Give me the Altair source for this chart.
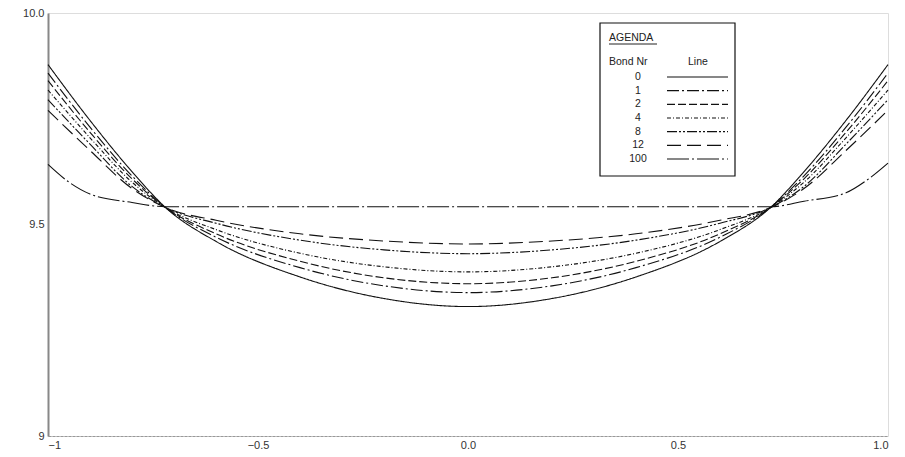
import altair as alt
import pandas as pd

# x positions
xs = [-1.0, -0.9, -0.8, -0.72, -0.6, -0.4, -0.2, 0.0, 0.2, 0.4, 0.6, 0.72, 0.8, 0.9, 1.0]
b0 = [9.878, 9.746, 9.625, 9.54, 9.46, 9.376, 9.325, 9.306, 9.325, 9.376, 9.46, 9.54, 9.625, 9.746, 9.878]
b1 = [9.858, 9.730, 9.615, 9.54, 9.47, 9.398, 9.355, 9.339, 9.355, 9.398, 9.47, 9.54, 9.615, 9.730, 9.858]
b2 = [9.840, 9.718, 9.608, 9.54, 9.478, 9.413, 9.374, 9.360, 9.374, 9.413, 9.478, 9.54, 9.608, 9.718, 9.840]
b4 = [9.818, 9.705, 9.600, 9.54, 9.488, 9.432, 9.400, 9.388, 9.400, 9.432, 9.488, 9.54, 9.600, 9.705, 9.818]
b8 = [9.795, 9.690, 9.590, 9.54, 9.503, 9.463, 9.440, 9.431, 9.440, 9.463, 9.503, 9.54, 9.590, 9.690, 9.795]
b12 = [9.770, 9.675, 9.585, 9.54, 9.510, 9.478, 9.461, 9.454, 9.461, 9.478, 9.510, 9.54, 9.585, 9.675, 9.770]
x100 = [-1.0, -0.95, -0.9, -0.8, -0.72, 0.72, 0.8, 0.9, 0.95, 1.0]
b100 = [9.642, 9.600, 9.572, 9.552, 9.542, 9.542, 9.555, 9.575, 9.605, 9.645]

bond_labels = ["0", "1", "2", "4", "8", "12", "100"]
dash_patterns = [[1, 0], [12, 3, 2, 3], [8, 3], [4, 2, 1, 2], [10, 2, 2, 2, 2, 2], [14, 6], [22, 3, 2, 3]]

rows = []
for lab, ys in zip(bond_labels[:6], [b0, b1, b2, b4, b8, b12]):
    for x, y in zip(xs, ys):
        rows.append({"x": x, "y": y, "bond": lab})
for x, y in zip(x100, b100):
    rows.append({"x": x, "y": y, "bond": "100"})
df = pd.DataFrame(rows)

dash_scale = alt.Scale(domain=bond_labels, range=dash_patterns)
FONT = "Liberation Sans"

lines = alt.Chart(df).mark_line(color="#111", strokeWidth=1.1, interpolate="monotone").encode(
    x=alt.X("x:Q", scale=alt.Scale(domain=[-1, 1], nice=False),
            axis=alt.Axis(values=[-1, -0.5, 0, 0.5, 1], title=None, grid=False, ticks=False,
                          labelExpr="datum.value == -1 ? '\u22121' : format(datum.value, '.1f')",
                          labelFont=FONT, labelFontSize=11, labelColor="#333", labelPadding=3,
                          domainColor="#999", domainWidth=1, domainDash=[3, 1])),
    y=alt.Y("y:Q", scale=alt.Scale(domain=[9, 10], nice=False),
            axis=alt.Axis(values=[9, 9.5, 10], title=None, grid=False, ticks=False,
                          labelExpr="datum.value == 9 ? '9' : format(datum.value, '.1f')",
                          labelFont=FONT, labelFontSize=11, labelColor="#333", labelPadding=4,
                          domainColor="#888", domainWidth=2)),
    strokeDash=alt.StrokeDash("bond:N", scale=dash_scale, legend=None),
    detail="bond:N",
)

# legend box
box = alt.Chart(pd.DataFrame({"a": [0]})).mark_rect(fill="white", stroke="#111", strokeWidth=1.2).encode(
    x=alt.value(552), x2=alt.value(687), y=alt.value(10), y2=alt.value(163))

title_df = pd.DataFrame({"t": ["AGENDA", "Bond Nr", "Line"],
                         "px": [561, 561, 640], "py": [25, 49, 49]})
legend_titles = alt.Chart(title_df).mark_text(font=FONT, fontSize=10.5, color="#222", align="left",
                                              baseline="middle").encode(
    x=alt.X("px:Q", scale=None), y=alt.Y("py:Q", scale=None), text="t:N")
underline = alt.Chart(pd.DataFrame({"a": [0]})).mark_rule(color="#222", strokeWidth=1).encode(
    x=alt.value(561), x2=alt.value(609), y=alt.value(31))

leg_df = pd.DataFrame({"bond": bond_labels, "row": list(range(len(bond_labels)))})
leg_y = alt.Y("row:Q", scale=alt.Scale(domain=[0, 6], range=[64, 146]), axis=None)
leg_text = alt.Chart(leg_df).mark_text(font=FONT, fontSize=10.5, color="#222", align="center",
                                       baseline="middle").encode(
    x=alt.value(590), y=leg_y, text="bond:N")
leg_lines = alt.Chart(leg_df).mark_rule(color="#111", strokeWidth=1.1).encode(
    x=alt.value(619), x2=alt.value(680), y=leg_y,
    strokeDash=alt.StrokeDash("bond:N", scale=dash_scale, legend=None))

chart = alt.layer(lines, box, legend_titles, underline, leg_text, leg_lines).resolve_scale(
    y="independent"
).properties(
    width=840, height=423,
    padding={"left": 40, "top": 5, "right": 9, "bottom": 13},
    autosize=alt.AutoSizeParams(type="none"),
).configure_view(stroke="#999", strokeWidth=1).configure(background="white")

chart.save("out.html", embed_options={"renderer": "svg", "actions": False})
